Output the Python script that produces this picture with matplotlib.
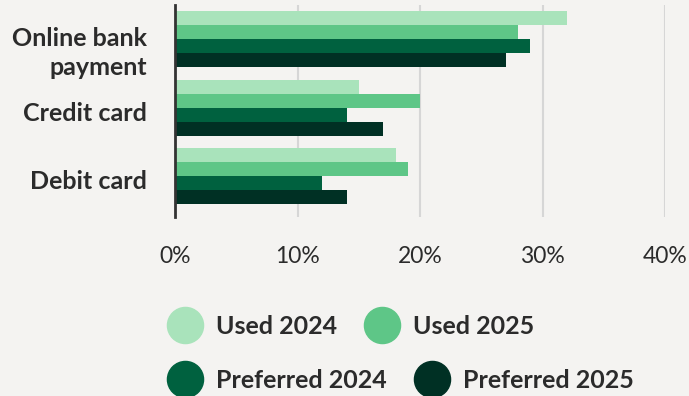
import matplotlib
matplotlib.use("Agg")
import matplotlib.pyplot as plt
from matplotlib.lines import Line2D
import matplotlib.transforms as mtransforms
import numpy as np

categories = ["Online bank\npayment", "Credit card", "Debit card"]
series_names = ["Used 2024", "Used 2025", "Preferred 2024", "Preferred 2025"]
used_2024 = [32, 15, 18]
used_2025 = [28, 20, 19]
preferred_2024 = [29, 14, 12]
preferred_2025 = [27, 17, 14]
x_ticks = [0, 10, 20, 30, 40]
x_tick_labels = ["0%", "10%", "20%", "30%", "40%"]

colors = ["#a9e3bb", "#5ec687", "#00613f", "#003024"]
bg = "#f4f3f1"

plt.rcParams['font.family'] = ['Lato', 'DejaVu Sans']

fig = plt.figure(figsize=(6.89, 3.96), dpi=100, facecolor=bg)
ax = fig.add_axes([175/689, 1-217/396, (665-175)/689, (217-5)/396])
ax.set_facecolor(bg)

series = [used_2024, used_2025, preferred_2024, preferred_2025]
y = np.arange(len(categories))
h = 0.205
for i, (vals, c) in enumerate(zip(series, colors)):
    ax.barh(y + (i - 1.5) * h, vals, height=h, color=c, zorder=3, label=series_names[i])

ax.set_xlim(0, 40)
ax.set_ylim(2.6, -0.5)
ax.set_xticks(x_ticks)
ax.set_xticklabels(x_tick_labels, fontsize=16.5, color="#2b2b2b")
ax.set_yticks(y)
ax.set_yticklabels(categories, fontsize=18, fontweight="bold", color="#2b2b2b",
                   linespacing=1.32)
ax.tick_params(axis="both", length=0)
ax.tick_params(axis="x", pad=21)
ax.tick_params(axis="y", pad=20)
ax.grid(axis="x", color="#d6d6d6", linewidth=1.5, zorder=0)
for s in ["top", "right", "bottom"]:
    ax.spines[s].set_visible(False)
ax.spines["left"].set_color("#333333")
ax.spines["left"].set_linewidth(2)
ax.spines["left"].set_zorder(4)

# shift y labels slightly down
for lab in ax.get_yticklabels():
    dy = -9 if "\n" in lab.get_text() else -4
    offset = mtransforms.ScaledTranslation(0, dy/100, fig.dpi_scale_trans)
    lab.set_transform(lab.get_transform() + offset)

def make_handles(idx):
    return [Line2D([0], [0], marker="o", linestyle="none", markersize=26,
                   markerfacecolor=colors[i], markeredgecolor=colors[i]) for i in idx]

leg_kw = dict(frameon=False, ncol=2, loc="center left", borderaxespad=0, borderpad=0,
              handlelength=1.4, handletextpad=0.55, columnspacing=1.1,
              prop={"family": "Lato", "weight": "bold", "size": 18})
leg1 = fig.legend(make_handles([0, 1]), series_names[0:2],
                  bbox_to_anchor=(167/689, 1-326/396), **leg_kw)
leg2 = fig.legend(make_handles([2, 3]), series_names[2:4],
                  bbox_to_anchor=(167/689, 1-380/396), **leg_kw)
for leg in (leg1, leg2):
    for t in leg.get_texts():
        t.set_color("#2b2b2b")

fig.savefig("out.png", dpi=100, facecolor=bg)
